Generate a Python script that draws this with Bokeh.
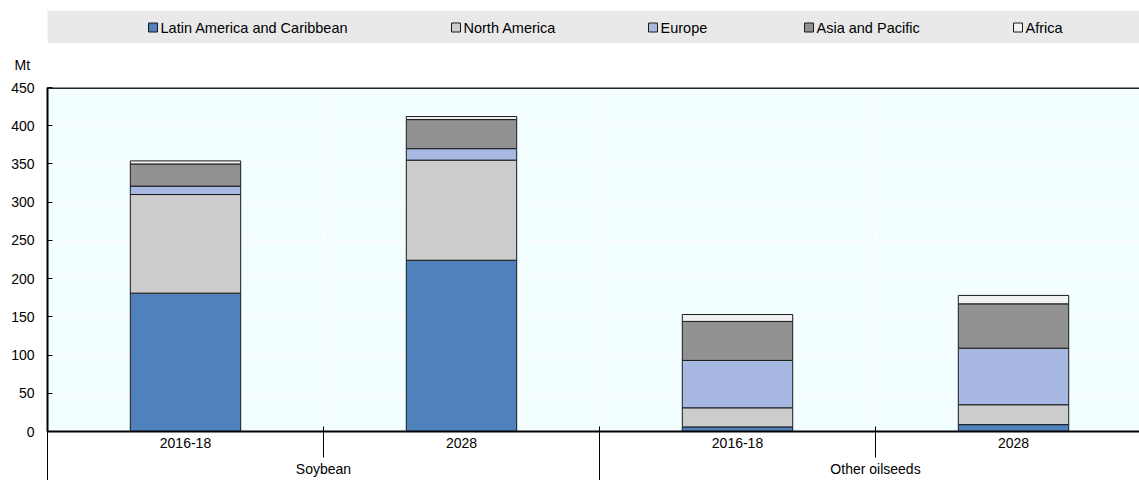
from bokeh.plotting import figure
from bokeh.layouts import column
from bokeh.models import Range1d, LinearAxis, FixedTicker, Grid, ColumnDataSource, Title, Span
from bokeh.core.properties import value
from bokeh.embed import file_html
from bokeh.resources import INLINE

# ---- data ----
groups = ["Soybean", "Other oilseeds"]
periods = ["2016-18", "2028", "2016-18", "2028"]
regions = ["Latin America and Caribbean", "North America", "Europe", "Asia and Pacific", "Africa"]
lac = [181, 224, 6, 9]
nam = [129, 131, 25, 26]
eur = [11, 15, 62, 74]
asp = [29, 38, 51, 58]
afr = [4, 4, 9, 11]
colors = ["#4F81BD", "#CCCCCC", "#A7B9E3", "#929292", "#F2F2F2"]
y_ticks = [0, 50, 100, 150, 200, 250, 300, 350, 400, 450]
unit = "Mt"

# ---- style / layout constants ----
FONT = "Liberation Sans"
BAND = "#E9E9E9"
PLOT_BG = "#F2FEFF"
EDGE = "#1a1a1a"
W = 1139
LEFT = 47
LEG_H = 43
MAIN_H = 437
LEG_MARK_LEFT = [148, 451, 648, 804, 1013]   # legend layout positions (screen px)
LEG_Y = 27

# slot layout: each bar occupies 2 units, centred at odd integers
xc = [2 * i + 1 for i in range(len(periods))]
sub_sep = [2 * i for i in range(len(periods))]
grp_c = [4 * g + 2 for g in range(len(groups))]
grp_sep = [4 * g for g in range(len(groups) + 1)]

# ---------------- legend strip ----------------
leg = figure(width=W, height=LEG_H, title=None,
             x_range=Range1d(LEFT, W), y_range=Range1d(LEG_H, 0),
             x_axis_type=None, y_axis_type=None,
             output_backend="svg", toolbar_location=None,
             min_border_left=LEFT, min_border_right=0, min_border_top=0, min_border_bottom=0,
             outline_line_color=None,
             background_fill_color="white", border_fill_color="white")
leg.grid.visible = False
leg.quad(left=[LEFT - 1], right=[W], top=[10], bottom=[LEG_H], fill_color=BAND, line_color=None)
leg_src = ColumnDataSource(dict(
    mx=[m + 4.5 for m in LEG_MARK_LEFT],
    tx=[m + 12 for m in LEG_MARK_LEFT],
    y=[LEG_Y] * len(regions),
    label=regions, color=colors))
leg.rect(x="mx", y="y", width=9, height=9, width_units="screen", height_units="screen",
         fill_color="color", line_color=EDGE, line_width=1, source=leg_src)
leg.text(x="tx", y="y", text="label", source=leg_src,
         text_font=value(FONT), text_font_size="14.5px", text_color="black",
         text_baseline="middle", text_align="left")

# ---------------- main chart ----------------
data = {"x": xc}
for name, vals in zip(regions, [lac, nam, eur, asp, afr]):
    data[name] = vals
source = ColumnDataSource(data)

p = figure(width=W, height=MAIN_H, title=None,
           x_range=Range1d(0, 7.913), y_range=Range1d(0, max(y_ticks)),
           x_axis_type=None, y_axis_type=None,
           output_backend="svg", toolbar_location=None,
           min_border_left=LEFT, min_border_right=0, min_border_top=36, min_border_bottom=49,
           background_fill_color=PLOT_BG, border_fill_color="white")
p.outline_line_color = None

p.add_layout(Grid(dimension=1, ticker=FixedTicker(ticks=y_ticks), grid_line_color="white", grid_line_width=1.5))
p.add_layout(Grid(dimension=0, ticker=FixedTicker(ticks=sub_sep), grid_line_color="white", grid_line_width=1.5))

p.vbar_stack(regions, x="x", width=0.8, source=source,
             fill_color=colors, line_color=EDGE, line_width=1)

# top border of the plot area
p.add_layout(Span(location=max(y_ticks), dimension="width", line_color="#222222", line_width=3))

yax = LinearAxis(ticker=FixedTicker(ticks=y_ticks),
                 major_tick_in=5, major_tick_out=0, major_tick_line_color="black",
                 minor_tick_line_color=None,
                 axis_line_color="black", axis_line_width=2,
                 major_label_standoff=13,
                 major_label_text_font=FONT, major_label_text_font_size="14px",
                 major_label_text_color="black")
p.add_layout(yax, "left")

xax1 = LinearAxis(ticker=FixedTicker(ticks=xc, minor_ticks=sub_sep),
                  major_label_overrides={x: lbl for x, lbl in zip(xc, periods)},
                  major_tick_in=0, major_tick_out=0, major_tick_line_color=None,
                  minor_tick_in=5, minor_tick_out=26, minor_tick_line_color="black", minor_tick_line_width=1,
                  axis_line_color="black", axis_line_width=2,
                  major_label_standoff=-20,
                  major_label_text_font=FONT, major_label_text_font_size="14px",
                  major_label_text_color="black")
p.add_layout(xax1, "below")

xax2 = LinearAxis(ticker=FixedTicker(ticks=grp_c, minor_ticks=grp_sep),
                  major_label_overrides={x: lbl for x, lbl in zip(grp_c, groups)},
                  major_tick_in=0, major_tick_out=0, major_tick_line_color=None,
                  minor_tick_in=0, minor_tick_out=30, minor_tick_line_color="black", minor_tick_line_width=1,
                  axis_line_color=None,
                  major_label_standoff=-20,
                  major_label_text_font=FONT, major_label_text_font_size="14px",
                  major_label_text_color="black")
p.add_layout(xax2, "below")

mt = Title(text=unit, align="left", offset=-33, standoff=26, vertical_align="top",
           text_font=FONT, text_font_size="14px", text_font_style="normal", text_color="black")
p.add_layout(mt, "above")

layout = column(leg, p, spacing=0)
open("out.html", "w").write(file_html(layout, INLINE))
